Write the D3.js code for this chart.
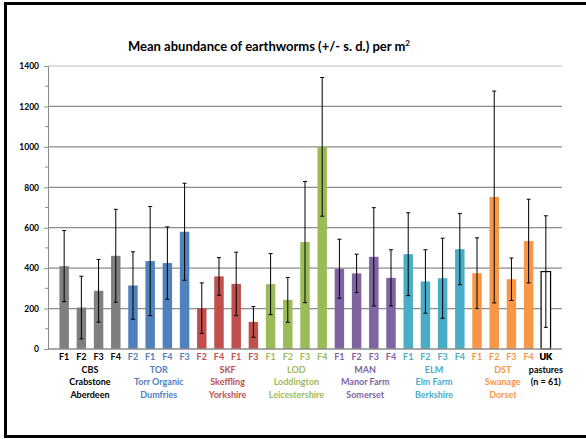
<!DOCTYPE html>
<html>
<head>
<meta charset="utf-8">
<script src="https://cdn.jsdelivr.net/npm/d3@7"></script>
<style>
  body { margin: 0; background: #fff; }
  text { font-family: Lato, "Open Sans", sans-serif; }
</style>
</head>
<body>
<div id="canvas"></div>
<script>
"use strict"

/* data */
let farms = ["F1","F2","F3","F4", "F2","F1","F4","F3", "F2","F4","F1","F3",
             "F1","F2","F3","F4", "F1","F2","F3","F4", "F1","F2","F3","F4",
             "F1","F2","F3","F4", "UK"];
let groupOf = [0,0,0,0, 1,1,1,1, 2,2,2,2, 3,3,3,3, 4,4,4,4, 5,5,5,5, 6,6,6,6, 7];
let means = [410, 205, 288, 461,  314, 435, 425, 580,  202, 359, 322, 134,
             321, 243, 529, 1000,  397, 374, 456, 352,  469, 334, 350, 494,
             375, 752, 345, 534,  383];
let sds = [176, 155, 155, 230,  167, 270, 179, 240,  125, 93, 157, 76,
           151, 111, 300, 343,  146, 95, 243, 139,  205, 157, 198, 176,
           175, 524, 105, 207,  276];
let groupCodes = ["CBS", "TOR", "SKF", "LOD", "MAN", "ELM", "DST", "UK"];
let groupNames = ["Crabstone", "Torr Organic", "Skeffling", "Loddington", "Manor Farm", "Elm Farm", "Swanage", "pastures"];
let groupPlaces = ["Aberdeen", "Dumfries", "Yorkshire", "Leicestershire", "Somerset", "Berkshire", "Dorset", "(n = 61)"];
let barColors = ["#7f7f7f", "#4f81bd", "#c0504d", "#9bbb59", "#8064a2", "#4bacc6", "#f79646", "#ffffff"];
let textColors = ["#000000", "#4f81bd", "#c0504d", "#9bbb59", "#8064a2", "#4bacc6", "#f79646", "#000000"];
let yTicks = [0, 200, 400, 600, 800, 1000, 1200, 1400];

let drawing = d3.select("#canvas")
    .append("svg")
    .attr("width", 586)
    .attr("height", 439);

/* frame */
drawing.append("rect")
    .attr("x", 5.5).attr("y", 3.5)
    .attr("width", 600).attr("height", 433)
    .attr("fill", "white")
    .attr("stroke", "black")
    .attr("stroke-width", 3);

let plotLeft = 48, plotRight = 562, plotTop = 66, plotBottom = 349;

let x = d3.scaleBand()
    .domain(d3.range(farms.length))
    .range([plotLeft, plotRight])
    .paddingInner(0.45)
    .paddingOuter(0.665);

let y = d3.scaleLinear()
    .domain([0, 1400])
    .range([plotBottom, plotTop]);

/* gridlines */
drawing.append("g")
    .selectAll("line")
    .data(yTicks.slice(1))
    .join("line")
    .attr("x1", plotLeft).attr("x2", plotRight)
    .attr("y1", d => y(d)).attr("y2", d => y(d))
    .attr("stroke", d => d === 1400 ? "#bdbdbd" : "#8c8c8c")
    .attr("stroke-width", 1.2);

/* y axis */
let yAxis = drawing.append("g")
    .attr("transform", `translate(${plotLeft},0)`)
    .call(d3.axisLeft(y).tickValues(yTicks).tickFormat(d3.format("d")).tickSize(4).tickPadding(5));
yAxis.select(".domain").attr("stroke", "#8c8c8c");
yAxis.selectAll(".tick line").attr("stroke", "#8c8c8c");
yAxis.selectAll(".tick text")
    .attr("font-family", "Lato, sans-serif")
    .attr("font-size", 8.5)
    .attr("font-weight", "bold")
    .attr("fill", "#000");

/* minor ticks */
drawing.append("g")
    .selectAll("line")
    .data(d3.range(100, 1400, 200))
    .join("line")
    .attr("x1", plotLeft - 3).attr("x2", plotLeft)
    .attr("y1", d => y(d)).attr("y2", d => y(d))
    .attr("stroke", "#8c8c8c");

/* bars */
drawing.append("g")
    .selectAll("rect")
    .data(means)
    .join("rect")
    .attr("x", (d, i) => x(i))
    .attr("y", d => y(d))
    .attr("width", x.bandwidth())
    .attr("height", d => y(0) - y(d))
    .attr("fill", (d, i) => barColors[groupOf[i]])
    .attr("stroke", (d, i) => groupOf[i] === 7 ? "black" : "none")
    .attr("stroke-width", 1.2);

/* x axis line */
drawing.append("line")
    .attr("x1", plotLeft).attr("x2", plotRight)
    .attr("y1", plotBottom).attr("y2", plotBottom)
    .attr("stroke", "#8c8c8c")
    .attr("stroke-width", 1.5);

/* error bars */
let errs = drawing.append("g").attr("stroke", "black").attr("stroke-width", 1);
means.forEach((m, i) => {
    let cx = x(i) + x.bandwidth() / 2;
    let hi = y(m + sds[i]), lo = y(Math.max(0, m - sds[i]));
    errs.append("line").attr("x1", cx).attr("x2", cx).attr("y1", hi).attr("y2", lo);
    errs.append("line").attr("x1", cx - 2).attr("x2", cx + 2).attr("y1", hi).attr("y2", hi);
    errs.append("line").attr("x1", cx - 2).attr("x2", cx + 2).attr("y1", lo).attr("y2", lo);
});

/* farm labels */
drawing.append("g")
    .selectAll("text")
    .data(farms)
    .join("text")
    .attr("x", (d, i) => x(i) + x.bandwidth() / 2)
    .attr("y", 360)
    .attr("text-anchor", "middle")
    .attr("font-size", 9)
    .attr("font-weight", "bold")
    .attr("fill", (d, i) => textColors[groupOf[i]])
    .text(d => d);

/* group labels */
let groupCenter = g => {
    let idx = d3.range(farms.length).filter(i => groupOf[i] === g);
    return (x(idx[0]) + x(idx[idx.length - 1]) + x.bandwidth()) / 2;
};
let lines = [groupCodes, groupNames, groupPlaces];
lines.forEach((arr, row) => {
    drawing.append("g")
        .selectAll("text")
        .data(arr)
        .join("text")
        .attr("x", (d, g) => groupCenter(g))
        .attr("y", (d, g) => g === 7 ? 360 + 12.5 * row : 372.5 + 12.5 * row)
        .attr("text-anchor", "middle")
        .attr("font-size", 9)
        .attr("font-weight", "bold")
        .attr("fill", (d, g) => textColors[g])
        .text(d => d);
});

/* title */
let title = drawing.append("text")
    .attr("x", 269)
    .attr("y", 51)
    .attr("text-anchor", "middle")
    .attr("font-size", 13)
    .attr("font-weight", "bold")
    .text("Mean abundance of earthworms (+/- s. d.) per m");
title.append("tspan")
    .attr("dy", -5)
    .attr("font-size", 8)
    .text("2");
</script>
</body>
</html>
